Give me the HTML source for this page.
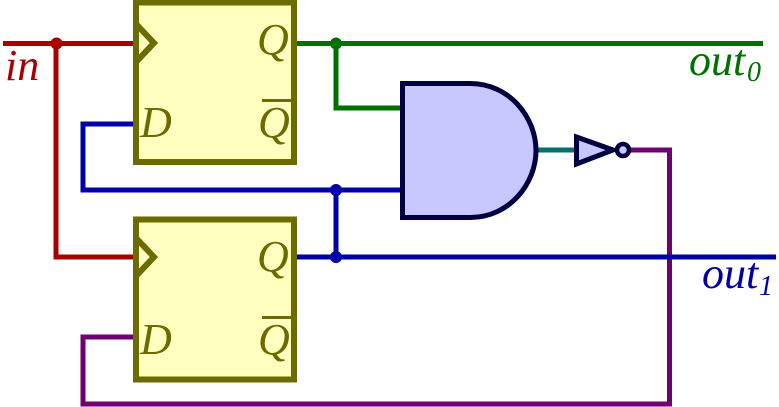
<!DOCTYPE html>
<html>
<head>
<meta charset="utf-8">
<style>
  html,body{margin:0;padding:0;background:#fff;}
  svg{display:block;}
  text{font-family:"Liberation Serif",serif;font-style:italic;}
</style>
</head>
<body>
<svg width="779" height="407" viewBox="0 0 779 407" xmlns="http://www.w3.org/2000/svg">
  <g fill="none" stroke-width="5" stroke-linejoin="miter" stroke-linecap="butt">
    <!-- purple feedback -->
    <path d="M630,150 H669.5 V404 H83 V337 H138" stroke="#700070"/>
    <!-- red clock -->
    <path d="M3,43.5 H138 M56,43.5 V257 H138" stroke="#a80000"/>
    <!-- green -->
    <path d="M295,43.5 H763 M336,43.5 V108 H404" stroke="#007000"/>
    <!-- blue -->
    <path d="M138,124 H83 V190 H404 M336,190 V257 M295,257 H776" stroke="#0000a8"/>
    <!-- teal -->
    <path d="M534,150 H578" stroke="#007070"/>
  </g>

  <!-- flip-flops -->
  <g fill="#ffffc0" stroke="#6b6b00" stroke-width="6">
    <rect x="136" y="2.5" width="158" height="159.5"/>
    <rect x="136" y="219.5" width="158" height="160"/>
  </g>
  <g fill="none" stroke="#6b6b00" stroke-width="6">
    <polyline points="136,24 154,43 136,62"/>
    <polyline points="136,238 154,257 136,276"/>
    <line x1="262" y1="100.5" x2="291" y2="100.5" stroke-width="3"/>
    <line x1="262" y1="317.5" x2="291" y2="317.5" stroke-width="3"/>
  </g>
  <g fill="#6b6b00" font-size="44">
    <text x="140" y="137">D</text>
    <text x="257" y="54">Q</text>
    <text x="258" y="137">Q</text>
    <text x="140" y="354">D</text>
    <text x="257" y="271">Q</text>
    <text x="258" y="354">Q</text>
  </g>

  <!-- AND gate -->
  <path d="M402.5,83.5 H470 C510,83.5 536,118 536,150.5 C536,183 510,217.5 470,217.5 H402.5 Z"
        fill="#c8c8ff" stroke="#000040" stroke-width="5"/>

  <!-- inverter -->
  <polygon points="576.5,137 613,150 576.5,164" fill="#c8c8ff" stroke="#000040" stroke-width="5"/>
  <circle cx="623" cy="150" r="6" fill="#c8c8ff" stroke="#000040" stroke-width="4.5"/>

  <!-- junction dots -->
  <circle cx="56.5" cy="43.5" r="6" fill="#a80000"/>
  <circle cx="336" cy="43.5" r="6" fill="#007000"/>
  <circle cx="336" cy="190" r="6" fill="#0000a8"/>
  <circle cx="336" cy="257" r="6" fill="#0000a8"/>

  <!-- labels -->
  <text x="5" y="80" font-size="44" fill="#a80000">in</text>
  <text x="689" y="75" font-size="44" fill="#007000">out</text>
  <text x="747" y="81" font-size="28" fill="#007000">0</text>
  <text x="702" y="288" font-size="44" fill="#0000a8">out</text>
  <text x="759" y="295" font-size="28" fill="#0000a8">1</text>
</svg>
</body>
</html>
